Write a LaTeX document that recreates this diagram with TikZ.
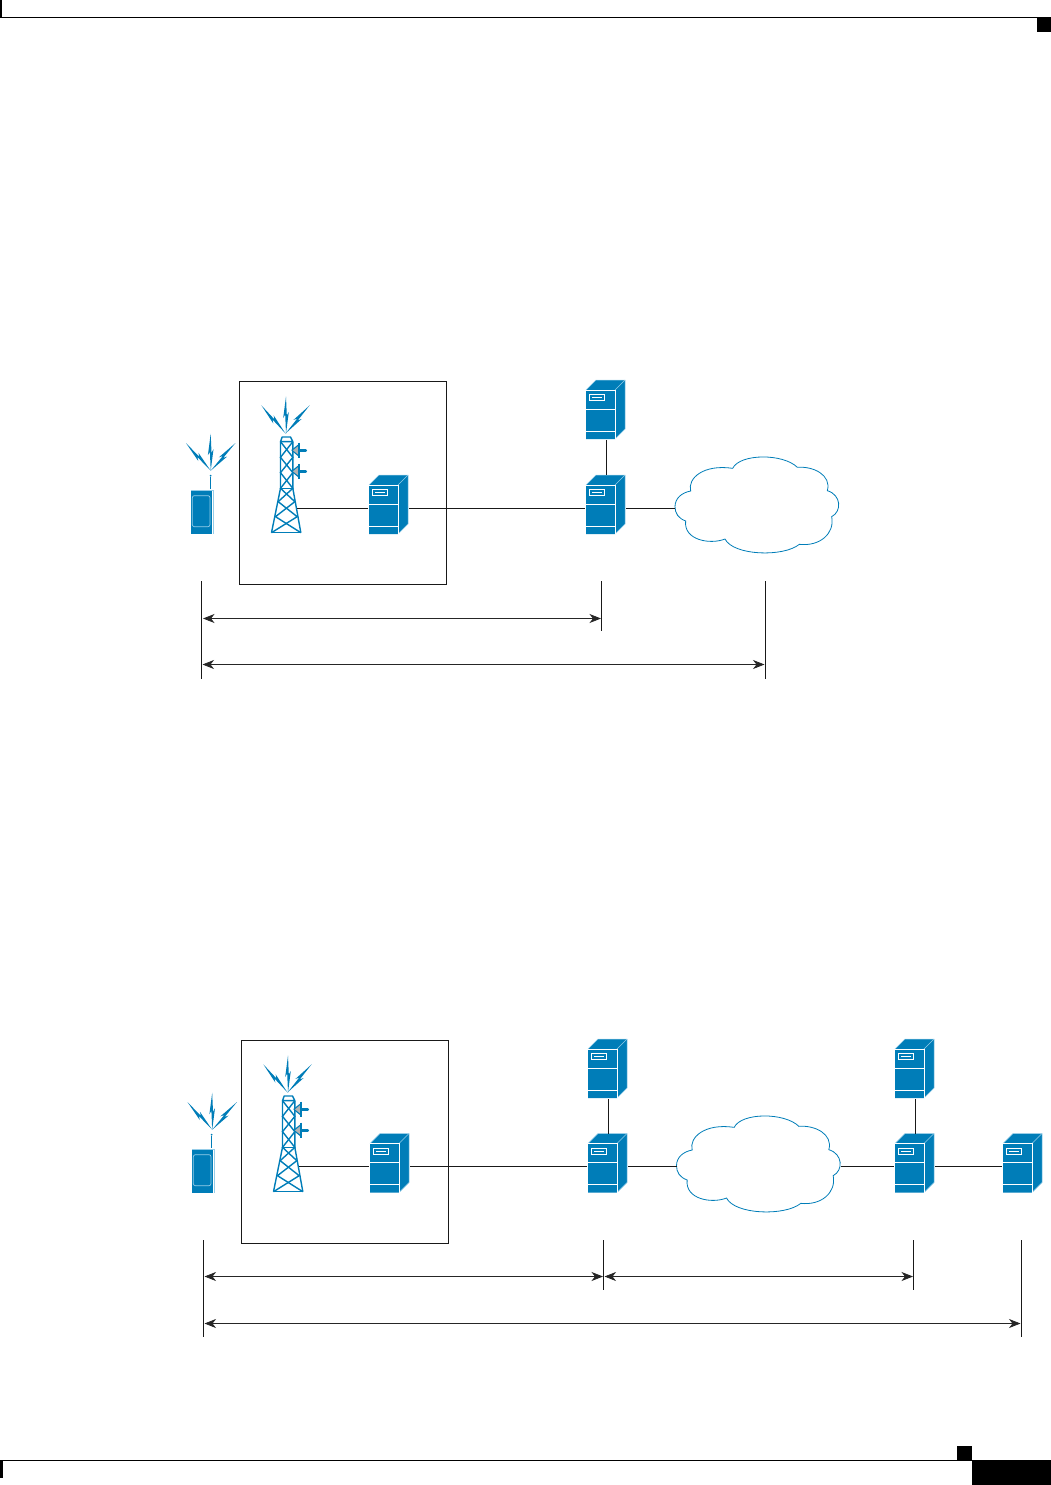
\documentclass[tikz,border=0pt]{standalone}
\usetikzlibrary{arrows.meta}
\definecolor{ciscoblue}{RGB}{0,125,184}
\definecolor{edgeblue}{RGB}{150,205,232}
\tikzset{
  x=1pt,y=-1pt,
  wire/.style={line width=0.9pt,draw=black!90},
  framebox/.style={line width=0.9pt,draw=black!90},
  tickline/.style={line width=0.8pt,draw=black!90},
  dim/.style={line width=0.75pt,draw=black!85,{Stealth[length=11.5pt,width=9pt,inset=3.5pt]}-{Stealth[length=11.5pt,width=9pt,inset=3.5pt]}},
  lattice/.style={line width=1.4pt,draw=ciscoblue},
  hidden/.style={inner sep=0pt,outer sep=0pt,minimum width=#1,minimum height=1pt},
  bolt/.pic={\fill[ciscoblue] (0,-37)--(-2.8,-15.5)--(-0.8,-19)--(0,0)--(2.8,-21.5)--(0.8,-18)--cycle;},
  server/.pic={
    \fill[ciscoblue] (0,10)--(10,0)--(39,0)--(39,49)--(29,59)--(0,59)--cycle;
    \draw[edgeblue,line width=0.5pt] (0,10)--(10,0)--(39,0)--(39,49)--(29,59);
    \draw[edgeblue,line width=0.5pt] (29,10)--(39,0);
    \draw[white,line width=0.7pt] (0,10)--(29,10)--(29,59);
    \draw[white,line width=0.7pt] (0,29)--(29,29) (0,51)--(29,51);
    \draw[white,line width=0.7pt] (3.5,14.5) rectangle (18.5,20.5);
    \draw[white,line width=0.6pt] (6,17.5)--(15.5,17.5);
    \coordinate (-w) at (-1,33);
    \coordinate (-e) at (40,33);
    \coordinate (-n) at (20,0);
    \coordinate (-s) at (20,60);
  },
  tower/.pic={
    \begin{scope}[scale=0.33333]
      \draw[lattice,line join=round] (330,215)--(335,201)--(360,201)--(367,215)--cycle;
      \draw[lattice] (330,215)--(330,355)--(303,488) (367,215)--(367,355)--(391,488);
      \draw[lattice] (330,215)--(367,262)--(330,308)--(367,355)--(323,395)--(380,440)--(303,488);
      \draw[lattice] (367,215)--(330,262)--(367,308)--(330,355)--(373,395)--(315,440)--(391,488);
      \draw[lattice] (330,355)--(367,355) (303,488)--(391,488);
      \foreach \dy in {0,63}{
        \fill[black!30] (364,241+\dy)--(385,224+\dy)--(385,258+\dy)--cycle;
        \draw[ciscoblue,line width=1.1pt] (364,241+\dy)--(385,224+\dy) (364,241+\dy)--(385,258+\dy);
        \draw[ciscoblue,line width=2.4pt] (385,218+\dy)--(385,265+\dy);
        \draw[ciscoblue,line width=2.6pt,line cap=round] (386,241+\dy)--(406,241+\dy);
      }
    \end{scope}
  },
  handset/.pic={
    \begin{scope}[scale=0.33333]
      \fill[ciscoblue] (63,362) rectangle (127,491);
      \draw[edgeblue,line width=0.5pt] (63,360)--(130,360)--(130,491);
      \draw[edgeblue,line width=0.7pt,rounded corners=2pt] (67,377) rectangle (120,470);
      \draw[ciscoblue,line width=0.9pt] (122,322)--(122,357);
      \fill[ciscoblue] (122,317) circle (3);
    \end{scope}
  },
  cloudshape/.pic={
    \begin{scope}[scale=0.33333]
      \draw[ciscoblue,line width=0.8pt,fill=white]
        (315,410) .. controls (315,385) and (335,368) .. (362,363)
        .. controls (352,325) and (400,282) .. (488,295)
        .. controls (510,250) and (640,250) .. (682,292)
        .. controls (730,288) and (785,315) .. (772,362)
        .. controls (815,375) and (815,425) .. (785,440)
        .. controls (795,490) and (750,530) .. (688,523)
        .. controls (640,562) and (490,557) .. (465,507)
        .. controls (420,525) and (340,510) .. (347,453)
        .. controls (325,445) and (315,430) .. (315,410) -- cycle;
      \coordinate (-w) at (315,414);
      \coordinate (-e) at (808,414);
    \end{scope}
  },
}
\begin{document}
\begin{tikzpicture}
\useasboundingbox (0,0) rectangle (1051,1485);
% page furniture
\fill[black] (0,0) rectangle (2,17.5);
\draw[black,line width=1.2pt] (0,17.3)--(1051,17.3);
\fill[black] (1036.5,17.5) rectangle (1051,32);
\draw[black,line width=1.2pt] (0,1460.5)--(972,1460.5);
\fill[black] (0,1460.5) rectangle (3,1478);
\fill[black] (957,1446) rectangle (972,1460.5);
\fill[black] (972,1460) rectangle (1051,1485);

% ---------- upper diagram
\node[framebox,draw,inner sep=0pt,minimum width=206.5pt,minimum height=203pt] (boxA) at (342.75,482.5) {};
\pic at (170,370) {handset};
\pic at (170.5,370) {tower};
\pic[rotate=0] at (210.7,470.7) {bolt};
\pic[rotate=41.8] at (210.7,470.7) {bolt};
\pic[rotate=-41.8] at (210.7,470.7) {bolt};
\pic[rotate=0] at (286,433.5) {bolt};
\pic[rotate=40.6] at (285.5,433.5) {bolt};
\pic[rotate=-40.6] at (285.5,433.5) {bolt};
\node[hidden=22pt] (towerA) at (286,508) {};
\pic (a1) at (369,475) {server};
\pic (a2) at (586,475) {server};
\pic (a3) at (586,380) {server};
\pic (cloudA) at (570,370) {cloudshape};
\draw[wire] (towerA.east)--(a1-w);
\draw[wire] (a1-e)--(a2-w);
\draw[wire] (a3-s)--(a2-n);
\draw[wire] (a2-e)--(a2-e -| cloudA-w);
\coordinate (ta1) at (201.5,581); \coordinate (ta2) at (201.5,679);
\coordinate (tb1) at (601,581); \coordinate (tb2) at (601,631);
\coordinate (tc1) at (765,581); \coordinate (tc2) at (765,679);
\draw[tickline] (ta1)--(ta2);
\draw[tickline] (tb1)--(tb2);
\draw[tickline] (tc1)--(tc2);
\coordinate (da1) at (203,618.5); \coordinate (da2) at (601,618.5);
\coordinate (db1) at (202.5,664.5); \coordinate (db2) at (764.5,664.5);
\draw[dim] (da1)--(da2);
\draw[dim] (db1)--(db2);

% ---------- lower diagram
\node[framebox,draw,inner sep=0pt,minimum width=206.5pt,minimum height=203pt] (boxB) at (344.75,1141.5) {};
\pic at (171,1029) {handset};
\pic at (172.5,1029) {tower};
\pic[rotate=0] at (212.2,1129.7) {bolt};
\pic[rotate=41.8] at (212.2,1129.7) {bolt};
\pic[rotate=-41.8] at (212.2,1129.7) {bolt};
\pic[rotate=0] at (288,1092.5) {bolt};
\pic[rotate=40.6] at (287.5,1092.5) {bolt};
\pic[rotate=-40.6] at (287.5,1092.5) {bolt};
\node[hidden=22pt] (towerB) at (288,1166.5) {};
\pic (b1) at (370,1133.5) {server};
\pic (b2) at (588,1133.5) {server};
\pic (b3) at (588,1039) {server};
\pic (b4) at (895,1039) {server};
\pic (b5) at (895,1133.5) {server};
\pic (b6) at (1003,1133.5) {server};
\pic (cloudB) at (571.5,1029) {cloudshape};
\draw[wire] (towerB.east)--(b1-w);
\draw[wire] (b1-e)--(b2-w);
\draw[wire] (b3-s)--(b2-n);
\draw[wire] (b2-e)--(b2-e -| cloudB-w);
\draw[wire] (b5-w -| cloudB-e)--(b5-w);
\draw[wire] (b4-s)--(b5-n);
\draw[wire] (b5-e)--(b6-w);
\coordinate (te1) at (203.5,1240); \coordinate (te2) at (203.5,1337);
\coordinate (tf1) at (603.5,1240); \coordinate (tf2) at (603.5,1290);
\coordinate (tg1) at (913.5,1240); \coordinate (tg2) at (913.5,1290);
\coordinate (th1) at (1021,1240); \coordinate (th2) at (1021,1337);
\draw[tickline] (te1)--(te2);
\draw[tickline] (tf1)--(tf2);
\draw[tickline] (tg1)--(tg2);
\draw[tickline] (th1)--(th2);
\coordinate (dc1) at (204.5,1276.5); \coordinate (dc2) at (603,1276.5);
\coordinate (dd1) at (604.5,1276.5); \coordinate (dd2) at (913,1276.5);
\coordinate (de1) at (204.5,1323.5); \coordinate (de2) at (1020.5,1323.5);
\draw[dim] (dc1)--(dc2);
\draw[dim] (dd1)--(dd2);
\draw[dim] (de1)--(de2);
\end{tikzpicture}
\end{document}
